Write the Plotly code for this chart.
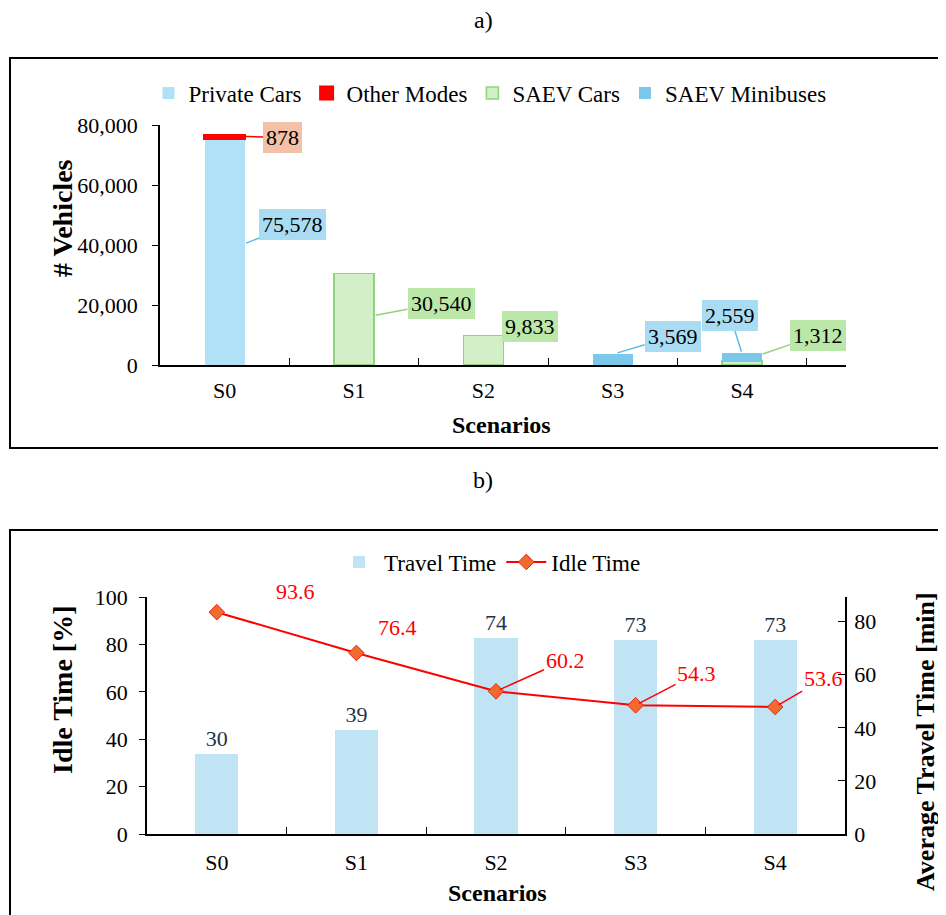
import plotly.graph_objects as go

# page has an 8px body margin, so the figure is sized to fit inside the window
OFF = 8
W, H = 946 - OFF, 915 - OFF
FONT = "Liberation Serif"

scenarios = ["S0", "S1", "S2", "S3", "S4"]
private_cars = [75578, None, None, None, None]
other_modes = [878, None, None, None, None]
saev_cars = [None, 30540, 9833, None, 1312]
saev_minibuses = [None, None, None, 3569, 2559]

travel_time = [30, 39, 74, 73, 73]
idle_time = [93.6, 76.4, 60.2, 54.3, 53.6]

def px(x): return (x - OFF) / W
def py(y): return 1 - (y - OFF) / H

fig = go.Figure()

# ---- top chart
fig.add_trace(go.Bar(x=scenarios, y=private_cars, name="Private Cars", width=0.31,
                     marker=dict(color="#b0e1f6", line=dict(width=0)), legend="legend",
                     xaxis="x", yaxis="y"))
fig.add_trace(go.Bar(x=scenarios, y=other_modes, name="Other Modes", width=0.31,
                     marker=dict(color="#ff0000", line=dict(color="#ff0000", width=3)), legend="legend",
                     xaxis="x", yaxis="y"))
fig.add_trace(go.Bar(x=scenarios, y=saev_cars, name="SAEV Cars", width=0.31,
                     marker=dict(color="#d3efc7", line=dict(color="#8fd47a", width=1.5)), legend="legend",
                     xaxis="x", yaxis="y"))
fig.add_trace(go.Bar(x=scenarios, y=saev_minibuses, name="SAEV Minibuses", width=0.31,
                     marker=dict(color="#7cc8ea", line=dict(width=0)), legend="legend",
                     xaxis="x", yaxis="y"))

# ---- bottom chart (bars on the right axis y2, line on the overlaying left axis y3)
fig.add_trace(go.Bar(x=scenarios, y=travel_time, name="Travel Time", width=0.31,
                     marker=dict(color="#c1e4f4", line=dict(width=0)),
                     text=[str(v) for v in travel_time], textposition="outside",
                     textfont=dict(family=FONT, size=22, color="#1f3347"), cliponaxis=False,
                     legend="legend2", xaxis="x2", yaxis="y2"))
fig.add_trace(go.Scatter(x=scenarios, y=idle_time, name="Idle Time", mode="lines+markers",
                         line=dict(color="#ff0000", width=2),
                         marker=dict(symbol="diamond", size=12, color="#f26b2d",
                                     line=dict(color="#e8201a", width=1)),
                         legend="legend2", xaxis="x2", yaxis="y3", cliponaxis=False))

axis_common = dict(showline=True, linecolor="black", linewidth=1.5, showgrid=False,
                   zeroline=False, tickfont=dict(family=FONT, size=22, color="black"),
                   tickcolor="black", automargin=False)

fig.update_layout(
    template="none",
    width=W, height=H, margin=dict(l=0, r=0, t=0, b=0, pad=0, autoexpand=False),
    paper_bgcolor="white", plot_bgcolor="rgba(0,0,0,0)",
    barmode="stack", font=dict(family=FONT, color="black"),
    xaxis=dict(domain=[px(160), px(846)], anchor="y", type="category",
               tickson="boundaries", ticks="inside", ticklen=7, ticklabelstandoff=5, **axis_common),
    yaxis=dict(domain=[py(365), py(125)], anchor="x", range=[0, 80000], dtick=20000,
               tickformat=",", ticks="outside", ticklen=6, ticklabelstandoff=10, **axis_common),
    xaxis2=dict(domain=[px(147), px(845)], anchor="y2", type="category",
                tickson="boundaries", ticks="inside", ticklen=7, ticklabelstandoff=8, **axis_common),
    yaxis2=dict(domain=[py(834), py(597)], anchor="x2", side="right", range=[0, 89.3], dtick=20,
                ticks="inside", ticklen=7, ticklabelstandoff=3, **axis_common),
    yaxis3=dict(overlaying="y2", side="left", anchor="x2", range=[0, 100], dtick=20,
                ticks="outside", ticklen=6, ticklabelstandoff=7, **axis_common),
    legend=dict(orientation="h", x=px(490), y=py(93), xanchor="center", yanchor="middle",
                font=dict(family=FONT, size=23, color="black"), traceorder="normal",
                itemwidth=30, bgcolor="rgba(0,0,0,0)", borderwidth=0),
    legend2=dict(orientation="h", x=px(490), y=py(562), xanchor="center", yanchor="middle",
                 font=dict(family=FONT, size=23, color="black"), traceorder="normal",
                 itemwidth=40, bgcolor="rgba(0,0,0,0)", borderwidth=0),
)

shapes = [
    dict(type="rect", xref="paper", yref="paper", x0=px(10), x1=px(943), y0=py(448), y1=py(58),
         line=dict(color="black", width=2)),
    dict(type="rect", xref="paper", yref="paper", x0=px(10), x1=px(943), y0=py(930), y1=py(530),
         line=dict(color="black", width=2)),
]
fig.update_layout(shapes=shapes)

ann = []
def paper_text(text, x, y, size=22, bold=False, angle=0):
    t = f"<b>{text}</b>" if bold else text
    ann.append(dict(text=t, xref="paper", yref="paper", x=px(x), y=py(y), showarrow=False,
                    xanchor="center", yanchor="middle", textangle=angle,
                    font=dict(family=FONT, size=size, color="black")))

paper_text("a)", 483, 20, size=24)
paper_text("b)", 483, 480, size=24)
paper_text("# Vehicles", 62, 218, size=28, bold=True, angle=-90)
paper_text("Scenarios", 502, 425, size=24, bold=True)
paper_text("Idle Time [%]", 62, 690, size=28, bold=True, angle=-90)
paper_text("Average Travel Time [min]", 925, 742, size=26, bold=True, angle=-90)
paper_text("Scenarios", 497, 893, size=24, bold=True)

# top callouts: (text, x, y, ax, ay, box colour, line colour, standoff)
top_labels = [
    ("878", "S0", private_cars[0] + other_modes[0], 58, 2, "#f3c0a8", "#ff0000", 2),
    ("75,578", "S0", private_cars[0] / 2, 68, -27, "#a9dcf3", "#5bbde6", 23),
    ("30,540", "S1", saev_cars[1] / 2, 87, -16, "#bbe7a9", "#8fd47a", 22),
    ("9,833", "S2", saev_cars[2], 47, -9, "#bbe7a9", "#8fd47a", 21),
    ("3,569", "S3", saev_minibuses[3], 60, -18, "#a9dcf3", "#5bbde6", 5),
    ("2,559", "S4", saev_cars[4] + saev_minibuses[4], -12, -38, "#a9dcf3", "#5bbde6", 2),
    ("1,312", "S4", saev_cars[4], 76, -26, "#bbe7a9", "#8fd47a", 22),
]
for text, x, y, ax, ay, bg, lc, so in top_labels:
    ann.append(dict(text=text, x=x, y=y, xref="x", yref="y", ax=ax, ay=ay,
                    showarrow=True, arrowhead=0, arrowwidth=1.5, arrowcolor=lc, standoff=so,
                    bgcolor=bg, borderpad=3, borderwidth=0,
                    font=dict(family=FONT, size=22, color="black")))

# bottom idle labels
idle_offsets = [(79, -21, False), (41, -25, False), (69, -31, True), (61, -32, True), (48, -28, True)]
for s, v, (ax, ay, arrow) in zip(scenarios, idle_time, idle_offsets):
    d = dict(text=f"{v}", x=s, y=v, xref="x2", yref="y3",
             font=dict(family=FONT, size=22, color="#ff0000"))
    if arrow:
        d.update(showarrow=True, ax=ax, ay=ay, arrowhead=0, arrowwidth=1.5,
                 arrowcolor="#ff0000", standoff=4)
    else:
        d.update(showarrow=False, xshift=ax, yshift=-ay)
    ann.append(d)

fig.update_layout(annotations=ann)
fig.write_html("out.html")
